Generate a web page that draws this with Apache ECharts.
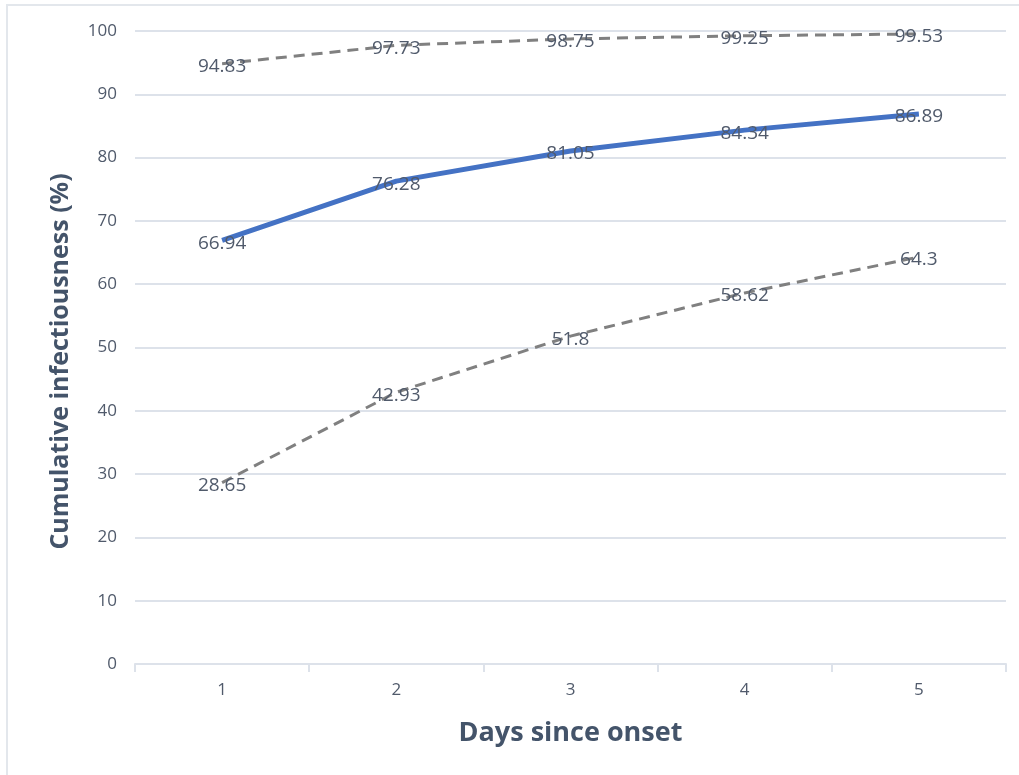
<!DOCTYPE html>
<html><head><meta charset="utf-8">
<script src="https://cdn.jsdelivr.net/npm/echarts@6/dist/echarts.min.js"></script>
<style>html,body{margin:0;padding:0;background:#fff}#c{width:1019px;height:775px}</style>
</head><body><div id="c"></div>
<script>
const categories = ['1','2','3','4','5'];
const upper = [94.83, 97.73, 98.75, 99.25, 99.53];
const mean = [66.94, 76.28, 81.05, 84.34, 86.89];
const lower = [28.65, 42.93, 51.8, 58.62, 64.3];
const yTicks = [0,10,20,30,40,50,60,70,80,90,100];

const font = 'Open Sans';
const labelStyle = {show:true, position:'inside', offset:[0,3], color:'#505a6b', fontSize:19, fontFamily:font};
function mk(name, data, color, width, type){
  return {name, type:'line', data, symbol:'circle', symbolSize:2, showSymbol:true,
    itemStyle:{color:'rgba(0,0,0,0)', borderWidth:0},
    lineStyle:{color, width, type}, label:labelStyle, z: type==='solid'?3:2, animation:false};
}
const chart = echarts.init(document.getElementById('c'));
chart.setOption({
  animation:false,
  grid:{left:135, right:13, top:31, bottom:111, containLabel:false},
  xAxis:{type:'category', data:categories, boundaryGap:true,
    name:'Days since onset', nameLocation:'middle', nameGap:56,
    nameTextStyle:{color:'#44546a', fontSize:27, fontWeight:'bold', fontFamily:font},
    axisLine:{lineStyle:{color:'#dde2ea', width:2}},
    axisTick:{show:true, length:8, lineStyle:{color:'#dde2ea', width:2}},
    axisLabel:{color:'#505a6b', fontSize:17, fontFamily:font, margin:18}},
  yAxis:{type:'value', min:0, max:100, interval:10,
    name:'Cumulative infectiousness (%)', nameLocation:'middle', nameGap:62,
    nameTextStyle:{color:'#44546a', fontSize:25, fontWeight:'bold', fontFamily:font, padding:[0,28,0,0]},
    axisLine:{show:false}, axisTick:{show:false},
    axisLabel:{color:'#505a6b', fontSize:17, fontFamily:font, margin:18,
      formatter:v=>yTicks.includes(v)?String(v):''},
    splitLine:{lineStyle:{color:'#dde2ea', width:2}}},
  graphic:[{type:'polyline', shape:{points:[[7,775],[7,5],[1019,5]]}, style:{stroke:'#e3e7ec', lineWidth:2, fill:null}}],
  series:[
    mk('upper', upper, '#808080', 3, [11,7]),
    mk('lower', lower, '#808080', 3, [11,7]),
    mk('mean', mean, '#4472c4', 5, 'solid')
  ]
});
</script></body></html>
